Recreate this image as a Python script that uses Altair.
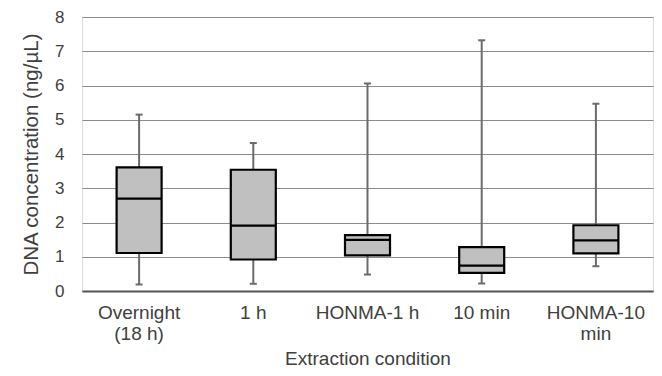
import altair as alt
import pandas as pd

categories = ["Overnight\n(18 h)", "1 h", "HONMA-1 h", "10 min", "HONMA-10\nmin"]
mins = [0.19, 0.21, 0.48, 0.22, 0.72]
q1 = [1.11, 0.92, 1.04, 0.53, 1.10]
medians = [2.70, 1.91, 1.49, 0.74, 1.48]
q3 = [3.61, 3.54, 1.63, 1.28, 1.92]
maxs = [5.15, 4.32, 6.06, 7.32, 5.47]
y_ticks = [0, 1, 2, 3, 4, 5, 6, 7, 8]

df = pd.DataFrame({"cond": categories, "lo": mins, "q1": q1, "med": medians, "q3": q3, "hi": maxs})

FONT = "Liberation Sans"
TXT = "#404040"

x = alt.X("cond:N", sort=categories,
          scale=alt.Scale(paddingInner=0, paddingOuter=0),
          axis=alt.Axis(title="Extraction condition", labelAngle=0, ticks=False,
                        labelExpr="split(datum.label, '\\n')",
                        labelFont=FONT, labelFontSize=19, labelColor=TXT, labelPadding=12,
                        labelLineHeight=21,
                        titleFont=FONT, titleFontSize=19, titleColor=TXT, titleFontWeight="normal",
                        titlePadding=6, domainColor="#555555", domainWidth=2, grid=False))
yscale = alt.Scale(domain=[0, 8], nice=False)
yaxis = alt.Axis(title="DNA concentration (ng/\u00b5L)", values=y_ticks, tickCount=9, labelOverlap=False,
                 ticks=False, domain=False,
                 grid=True, gridColor="#8c8c8c", gridWidth=1,
                 labelFont=FONT, labelFontSize=17, labelColor=TXT, labelPadding=18,
                 titleFont=FONT, titleFontSize=20.5, titleColor=TXT, titleFontWeight="normal",
                 titlePadding=13)


def yenc(field):
    return alt.Y(field, scale=yscale, axis=yaxis)


base = alt.Chart(df)

whisker = base.mark_rule(color="#6b6b6b", strokeWidth=2).encode(x=x, y=yenc("lo:Q"), y2="hi:Q")
cap_lo = base.mark_tick(color="#6b6b6b", size=7, thickness=2, opacity=1).encode(x=x, y=yenc("lo:Q"))
cap_hi = base.mark_tick(color="#6b6b6b", size=7, thickness=2, opacity=1).encode(x=x, y=yenc("hi:Q"))
box = base.mark_bar(size=45, fill="#c0c0c0", stroke="#000000", strokeWidth=2.2, opacity=1).encode(
    x=x, y=yenc("q1:Q"), y2="q3:Q")
median = base.mark_tick(color="#000000", size=45, thickness=2.2, opacity=1).encode(x=x, y=yenc("med:Q"))

chart = alt.layer(whisker, cap_lo, cap_hi, box, median).properties(
    width=571, height=274,
    autosize=alt.AutoSizeParams(type="none"),
    padding={"left": 74, "top": 9, "right": 1, "bottom": 85},
).configure_view(stroke=None).configure(background="white")

chart.save("out.html", embed_options={"renderer": "svg", "actions": False})
